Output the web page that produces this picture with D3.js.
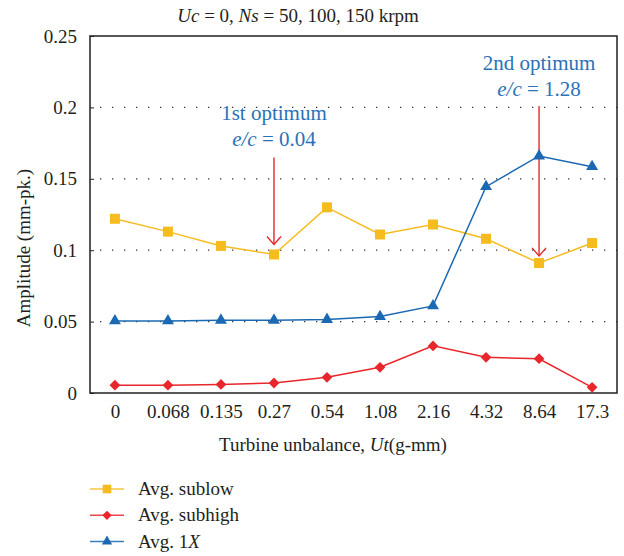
<!DOCTYPE html>
<html>
<head>
<meta charset="utf-8">
<script src="https://cdn.jsdelivr.net/npm/d3@7"></script>
<style>
  body { margin: 0; background: #fff; }
  svg text { font-family: "Liberation Serif", "Times New Roman", serif; fill: #231f20; }
</style>
</head>
<body>
<svg id="chart" width="624" height="556"></svg>
<script>
// turbine unbalance categories (g-mm)
const categories = ['0', '0.068', '0.135', '0.27', '0.54', '1.08', '2.16', '4.32', '8.64', '17.3'];

const sublow  = [0.122, 0.113, 0.103, 0.097, 0.130, 0.111, 0.118, 0.108, 0.091, 0.105];
const subhigh = [0.0055, 0.0055, 0.006, 0.007, 0.011, 0.018, 0.033, 0.025, 0.024, 0.004];
const avg1x   = [0.0505, 0.0505, 0.051, 0.051, 0.0515, 0.0535, 0.061, 0.1445, 0.166, 0.1585];

const yTicks = [0, 0.05, 0.1, 0.15, 0.2, 0.25];

// arrows: [category, from value, to value]
const arrows = [['0.27', 0.165, 0.104], ['8.64', 0.201, 0.096]];

const width = 624, height = 556;
const margin = {top: 36, right: 7, bottom: 163, left: 90};

let svg = d3.select('#chart');

let x = d3.scalePoint()
  .domain(categories)
  .range([margin.left, width - margin.right])
  .padding(0.47);

let y = d3.scaleLinear()
  .domain([0, 0.25])
  .range([height - margin.bottom, margin.top]);

let series = [
  {name: 'Avg. sublow', values: sublow, color: '#f6bb1f', shape: d3.symbolSquare, size: 100, rot: 0},
  {name: 'Avg. subhigh', values: subhigh, color: '#e8262b', shape: d3.symbolSquare, size: 58, rot: 45},
  {name: 'Avg. 1X', values: avg1x, color: '#1b69b3', shape: d3.symbolTriangle, size: 62, rot: 0}
];

// dotted grid
svg.append('g')
  .selectAll('line')
  .data(yTicks.filter(d => d > 0 && d < 0.25))
  .join('line')
    .attr('x1', margin.left + 10)
    .attr('x2', width - margin.right)
    .attr('y1', d => y(d))
    .attr('y2', d => y(d))
    .attr('stroke', '#333')
    .attr('stroke-width', 1.3)
    .attr('stroke-dasharray', '1.3,10.7');

// y axis labels + inward ticks
let yAxis = d3.axisLeft(y).tickValues(yTicks).tickSize(-4).tickPadding(13)
  .tickFormat(d => d === 0 ? '0' : String(+d.toFixed(2)));
let gy = svg.append('g')
  .attr('transform', `translate(${margin.left},0)`)
  .call(yAxis);
gy.select('.domain').remove();
gy.selectAll('line').attr('stroke', '#231f20');
gy.selectAll('text').attr('font-size', 19).attr('font-family', '"Liberation Serif", serif').attr('fill', '#231f20');

// x axis labels
let xAxis = d3.axisBottom(x).tickSize(0).tickPadding(12);
let gx = svg.append('g')
  .attr('transform', `translate(0,${y(0)})`)
  .call(xAxis);
gx.select('.domain').remove();
gx.selectAll('text').attr('font-size', 19).attr('font-family', '"Liberation Serif", serif').attr('fill', '#231f20');

// frame
svg.append('rect')
  .attr('x', margin.left)
  .attr('y', y(0.25))
  .attr('width', width - margin.right - margin.left)
  .attr('height', y(0) - y(0.25))
  .attr('fill', 'none')
  .attr('stroke', '#231f20')
  .attr('stroke-width', 1.5);

// arrows
let arrowG = svg.append('g');
arrows.forEach(function(a) {
  let ax = x(a[0]);
  arrowG.append('line')
    .attr('x1', ax).attr('x2', ax)
    .attr('y1', y(a[1])).attr('y2', y(a[2]))
    .attr('stroke', '#e8262b').attr('stroke-width', 1.4);
  arrowG.append('path')
    .attr('d', `M${ax - 7},${y(a[2]) - 8}L${ax},${y(a[2])}L${ax + 7},${y(a[2]) - 8}`)
    .attr('fill', 'none').attr('stroke', '#e8262b').attr('stroke-width', 1.4);
});

// lines and markers
let line = d3.line().x((d, i) => x(categories[i])).y(d => y(d));

series.forEach(function(s) {
  svg.append('path')
    .datum(s.values)
    .attr('d', line)
    .attr('fill', 'none')
    .attr('stroke', s.color)
    .attr('stroke-width', 1.5);
  svg.append('g')
    .selectAll('path')
    .data(s.values)
    .join('path')
      .attr('transform', (d, i) => `translate(${x(categories[i])},${y(d)}) rotate(${s.rot})`)
      .attr('d', d3.symbol().type(s.shape).size(s.size))
      .attr('fill', s.color);
});

// annotations
function annot(cx, y1, label, value) {
  svg.append('text')
    .attr('x', cx).attr('y', y1)
    .attr('text-anchor', 'middle')
    .attr('font-size', 21)
    .style('fill', '#2a72b8')
    .text(label);
  let t = svg.append('text')
    .attr('x', cx).attr('y', y1 + 26)
    .attr('text-anchor', 'middle')
    .attr('font-size', 21)
    .style('fill', '#2a72b8');
  t.append('tspan').attr('font-style', 'italic').text('e/c');
  t.append('tspan').text(' = ' + value);
}
annot(x('0.27'), 120, '1st optimum', '0.04');
annot(x('8.64'), 70, '2nd optimum', '1.28');

// title
let title = svg.append('text')
  .attr('x', 298).attr('y', 22)
  .attr('text-anchor', 'middle')
  .attr('font-size', 19);
title.append('tspan').attr('font-style', 'italic').text('Uc');
title.append('tspan').text(' = 0, ');
title.append('tspan').attr('font-style', 'italic').text('Ns');
title.append('tspan').text(' = 50, 100, 150 krpm');

// axis titles
let xt = svg.append('text')
  .attr('x', 333).attr('y', 451)
  .attr('text-anchor', 'middle')
  .attr('font-size', 19);
xt.append('tspan').text('Turbine unbalance, ');
xt.append('tspan').attr('font-style', 'italic').text('Ut');
xt.append('tspan').text('(g-mm)');

svg.append('text')
  .attr('transform', 'translate(30,248) rotate(-90)')
  .attr('text-anchor', 'middle')
  .attr('font-size', 19)
  .text('Amplitude (mm-pk.)');

// legend
let legend = svg.append('g');
series.forEach(function(s, i) {
  let ly = 489 + i * 26.3;
  legend.append('line')
    .attr('x1', 90).attr('x2', 124)
    .attr('y1', ly).attr('y2', ly)
    .attr('stroke', s.color).attr('stroke-width', 1.5).attr('opacity', 0.85);
  legend.append('path')
    .attr('transform', `translate(107,${ly}) rotate(${s.rot})`)
    .attr('d', d3.symbol().type(s.shape).size(s.size * 0.75))
    .attr('fill', s.color);
  let lt = legend.append('text')
    .attr('x', 138).attr('y', ly + 6)
    .attr('font-size', 19);
  if (s.name === 'Avg. 1X') {
    lt.append('tspan').text('Avg. 1');
    lt.append('tspan').attr('font-style', 'italic').text('X');
  } else {
    lt.text(s.name);
  }
});
</script>
</body>
</html>
